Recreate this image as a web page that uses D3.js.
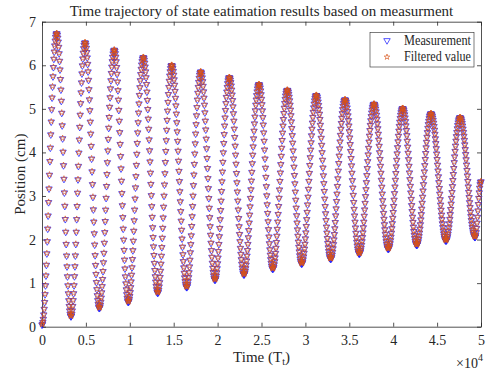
<!DOCTYPE html>
<html>
<head>
<meta charset="utf-8">
<script src="https://cdn.jsdelivr.net/npm/d3@7"></script>
<style>
  body { margin: 0; background: #fff; }
  text { font-family: "Liberation Serif", "Times New Roman", serif; fill: #262626; }
</style>
</head>
<body>
<div id="chart"></div>
<script>
// Turning points of the trajectory (time in Tt, position in cm)
const extremaTime = [0, 1670, 3300, 4900, 6530, 8230, 9830, 11540, 13180, 14770, 16480, 18075, 19700,
  21330, 23000, 24715, 26280, 27940, 29580, 31240, 32880, 34510, 36140, 37810, 39440, 41080, 42680,
  44300, 46010, 47610, 49320, 50000];
const extremaValue = [0.04, 6.73, 0.23, 6.52, 0.42, 6.35, 0.56, 6.18, 0.77, 6.0, 0.9, 5.85, 1.07,
  5.72, 1.19, 5.56, 1.32, 5.43, 1.44, 5.31, 1.55, 5.21, 1.67, 5.11, 1.78, 5.01, 1.87, 4.89, 1.97,
  4.8, 2.05, 3.33];
const sampleStep = 50; // spacing of the samples along the time axis
const xTicks = [0, 5000, 10000, 15000, 20000, 25000, 30000, 35000, 40000, 45000, 50000];
const yTicks = [0, 1, 2, 3, 4, 5, 6, 7];
const legendLabels = ['Measurement', 'Filtered value'];

// The record is ~1000 samples; they are placed on a half-cosine between the turning points above
const samples = [];
for (let t = 0; t <= 50000; t += sampleStep) {
  let i = 0;
  while (i < extremaTime.length - 2 && t > extremaTime[i + 1]) i++;
  const t0 = extremaTime[i], t1 = extremaTime[i + 1];
  const v0 = extremaValue[i], v1 = extremaValue[i + 1];
  const f = Math.min(1, (t - t0) / (t1 - t0));
  const v = v0 + (v1 - v0) * (1 - Math.cos(Math.PI * f)) / 2;
  samples.push({ t: t, v: v });
}

const width = 489, height = 370;
const margin = { top: 21.7, right: 8, bottom: 43.3, left: 42 };

const svg = d3.select('#chart').append('svg')
  .attr('width', width).attr('height', height);

const x = d3.scaleLinear().domain([0, 50000]).range([margin.left, width - margin.right]);
const y = d3.scaleLinear().domain([0, 7]).range([height - margin.bottom, margin.top]);

const axisColor = '#262626';

// axes with inward ticks on all four sides
const axisBottomG = svg.append('g')
  .attr('transform', `translate(0,${y(0)})`)
  .call(d3.axisBottom(x).tickValues(xTicks).tickSizeInner(-4).tickSizeOuter(0).tickPadding(8)
    .tickFormat(d => String(d / 10000)));
const axisTopG = svg.append('g')
  .attr('transform', `translate(0,${y(7)})`)
  .call(d3.axisTop(x).tickValues(xTicks).tickSizeInner(-4).tickSizeOuter(0).tickFormat(''));
const axisLeftG = svg.append('g')
  .attr('transform', `translate(${x(0)},0)`)
  .call(d3.axisLeft(y).tickValues(yTicks).tickSizeInner(-4).tickSizeOuter(0).tickPadding(6)
    .tickFormat(d => String(d)));
const axisRightG = svg.append('g')
  .attr('transform', `translate(${x(50000)},0)`)
  .call(d3.axisRight(y).tickValues(yTicks).tickSizeInner(-4).tickSizeOuter(0).tickFormat(''));

[axisBottomG, axisTopG, axisLeftG, axisRightG].forEach(g => {
  g.selectAll('path.domain').attr('stroke', axisColor).attr('stroke-width', 0.8);
  g.selectAll('line').attr('stroke', axisColor).attr('stroke-width', 0.8);
  g.selectAll('text').attr('font-size', 14).attr('fill', axisColor);
});

// markers
const triangle = d3.symbol().type(d3.symbolTriangle).size(18);
const star = d3.symbol().type(d3.symbolStar).size(10);

svg.append('g').selectAll('path')
  .data(samples)
  .enter()
  .append('path')
  .attr('d', triangle)
  .attr('transform', d => `translate(${x(d.t)},${y(d.v)}) rotate(180)`)
  .attr('fill', 'none')
  .attr('stroke', '#1f1fff')
  .attr('stroke-width', 0.75);

svg.append('g').selectAll('path')
  .data(samples)
  .enter()
  .append('path')
  .attr('d', star)
  .attr('transform', d => `translate(${x(d.t)},${y(d.v) - 0.5})`)
  .attr('fill', 'none')
  .attr('stroke', '#d95319')
  .attr('stroke-width', 0.65);

// title and labels
svg.append('text')
  .attr('x', (x(0) + x(50000)) / 2).attr('y', 16)
  .attr('text-anchor', 'middle').attr('font-size', 15)
  .text('Time trajectory of state eatimation results based on measurment');

const xl = svg.append('text')
  .attr('x', (x(0) + x(50000)) / 2).attr('y', 362)
  .attr('text-anchor', 'middle').attr('font-size', 15);
xl.append('tspan').text('Time (T');
xl.append('tspan').attr('font-size', 10).attr('dy', 3).text('t');
xl.append('tspan').attr('dy', -3).text(')');

svg.append('text')
  .attr('transform', `translate(25,${(y(0) + y(7)) / 2}) rotate(-90)`)
  .attr('text-anchor', 'middle').attr('font-size', 15)
  .text('Position (cm)');

const mult = svg.append('text')
  .attr('x', 483).attr('y', 368)
  .attr('text-anchor', 'end').attr('font-size', 14);
mult.append('tspan').text('\u00d710');
mult.append('tspan').attr('font-size', 10).attr('dy', -7).text('4');

// legend
const legend = svg.append('g');
legend.append('rect')
  .attr('x', 370).attr('y', 32.5).attr('width', 104).attr('height', 34.5)
  .attr('fill', '#fff').attr('stroke', axisColor).attr('stroke-width', 0.6);
legend.append('path')
  .attr('d', triangle)
  .attr('transform', 'translate(387,40.5) rotate(180)')
  .attr('fill', 'none').attr('stroke', '#1f1fff').attr('stroke-width', 0.75);
legend.append('path')
  .attr('d', star)
  .attr('transform', 'translate(387,57)')
  .attr('fill', 'none').attr('stroke', '#d95319').attr('stroke-width', 0.65);
legendLabels.forEach((label, i) => {
  const t = legend.append('text')
    .attr('x', 404).attr('y', 45 + i * 16)
    .attr('font-size', 14)
    .text(label);
  // keep the label inside the box
  if (t.node().getComputedTextLength() > 67) {
    t.attr('textLength', 67).attr('lengthAdjust', 'spacingAndGlyphs');
  }
});
</script>
</body>
</html>
